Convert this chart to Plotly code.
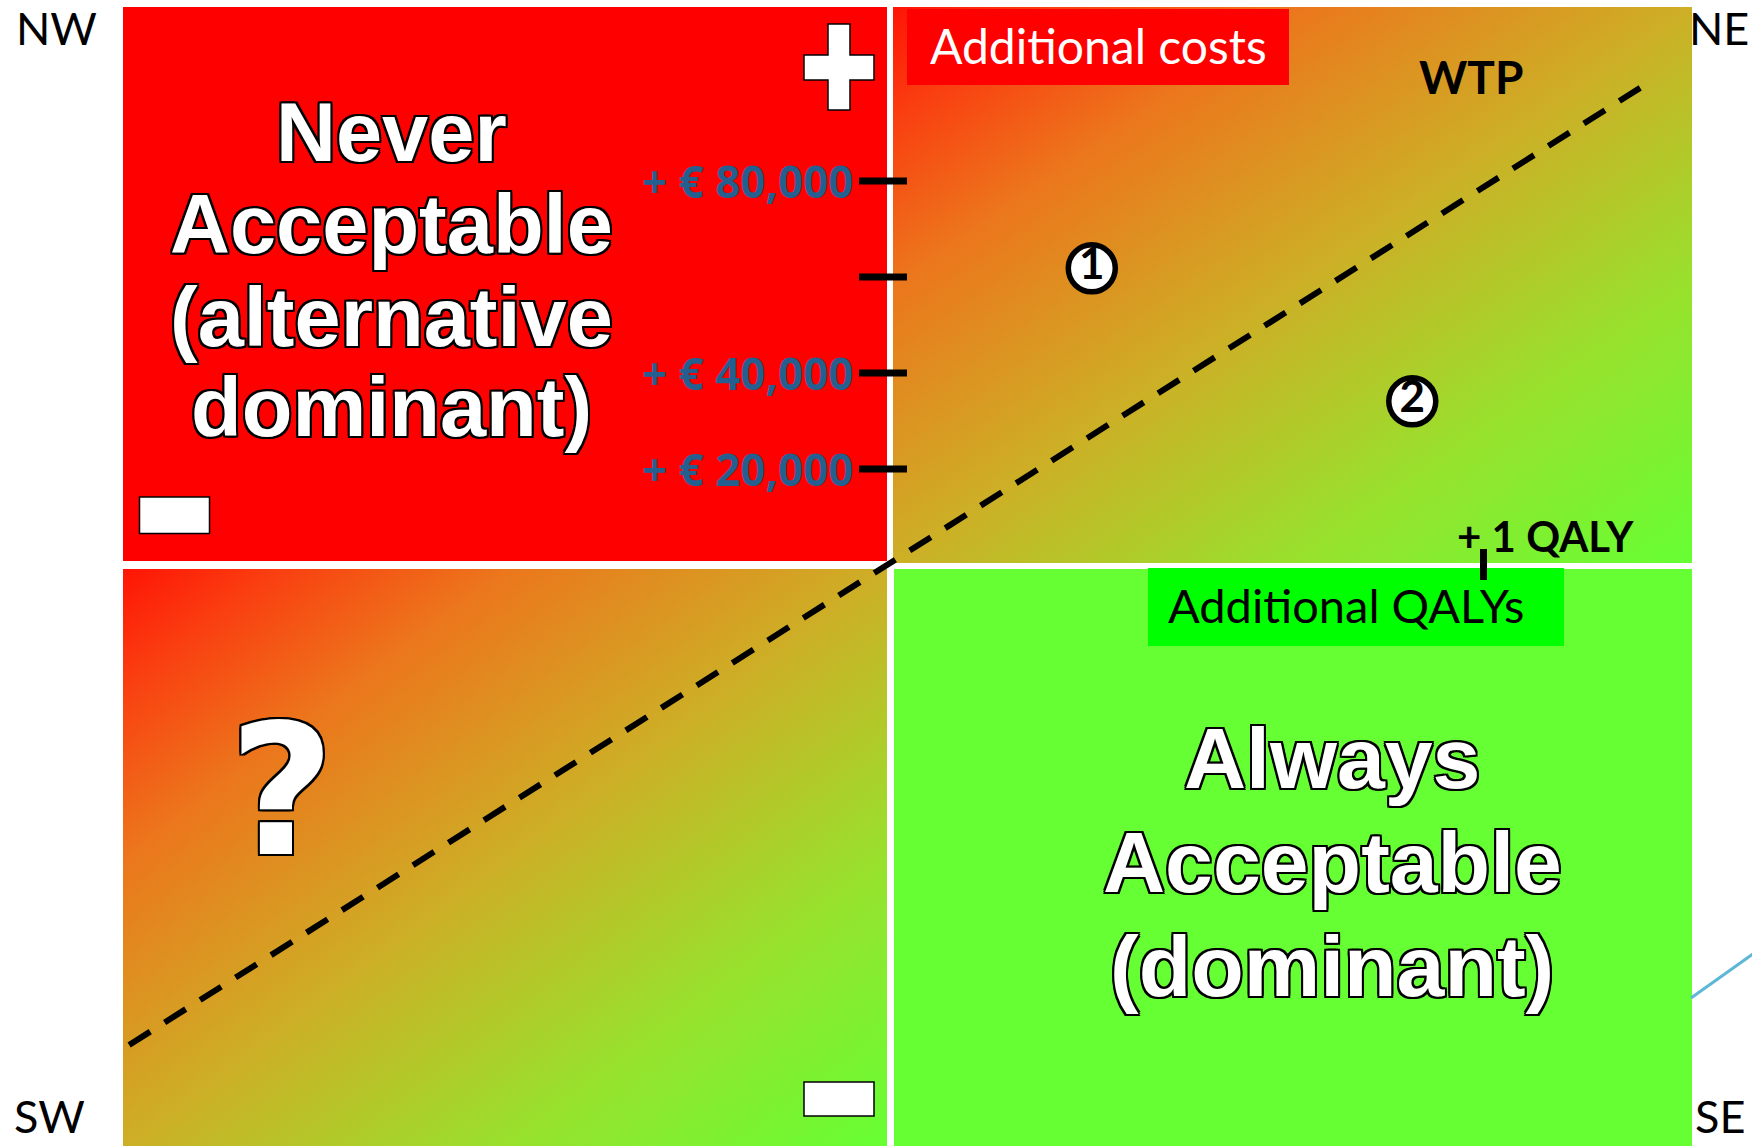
import base64
import plotly.graph_objects as go

W, H = 1752, 1146

# ---- cost-effectiveness plane content -------------------------------------
cost_ticks = [20000, 40000, 60000, 80000]
cost_tick_labels = ["+ € 20,000", "+ € 40,000", "", "+ € 80,000"]
qaly_ticks = [1]
qaly_tick_labels = ["+ 1 QALY"]

# willingness-to-pay threshold line (QALYs, €)
wtp_qaly = [-1.282, 1.264]
wtp_cost = [-100000, 99400]

# two example interventions
point_ids = ["1", "2"]
point_qaly = [0.34, 0.88]
point_cost = [61800, 34100]

nw_lines = ["Never", "Acceptable", "(alternative", "dominant)"]
se_lines = ["Always", "Acceptable", "(dominant)"]

# ---- page geometry -----------------------------------------------------------
X0_PX, Y0_PX = 890, 565          # where the origin sits on the page
PX_PER_QALY = 593.5
PX_PER_EURO = 96 / 20000

x_range = [-X0_PX / PX_PER_QALY, (W - X0_PX) / PX_PER_QALY]
y_range = [(Y0_PX - H) / PX_PER_EURO, Y0_PX / PX_PER_EURO]


def fx(px):
    return px / W


def fy(py):
    return 1 - py / H


RED = "#FF0000"
GREEN = "#66FF33"
BOX_GREEN = "#00FF00"
TICK_BLUE = "#255F8F"
OUTLINE = ", ".join(
    f"{dx}px {dy}px 0 #000"
    for dx, dy in [(-2, -2), (2, -2), (-2, 2), (2, 2), (0, 2), (2, 0), (0, -2), (-2, 0)]
)
CORNER_FONT = "Liberation Sans Narrow, Lato"

# diagonal red -> green gradient used for the NE and SW quadrants
stops = [(0, "#FF1405"), (10, "#FA3E10"), (25, "#EC761C"), (50, "#CDAF26"),
         (75, "#98E12D"), (100, "#66FF33")]
svg = (
    '<svg xmlns="http://www.w3.org/2000/svg" width="200" height="200" '
    'viewBox="0 0 200 200" preserveAspectRatio="none">'
    '<defs><linearGradient id="g" x1="0" y1="0" x2="1" y2="1">'
    + "".join(f'<stop offset="{o}%" stop-color="{c}"/>' for o, c in stops)
    + '</linearGradient></defs><rect width="200" height="200" fill="url(#g)"/></svg>'
)
grad_uri = "data:image/svg+xml;base64," + base64.b64encode(svg.encode()).decode()


def grad_image(x0, y0, x1, y1):
    return dict(source=grad_uri, xref="paper", yref="paper", x=fx(x0), y=fy(y0),
                sizex=(x1 - x0) / W, sizey=(y1 - y0) / H, xanchor="left",
                yanchor="top", sizing="stretch", layer="below")


def rect(x0, y0, x1, y1, fill, layer="below", line_w=0, line_c="rgba(0,0,0,0)"):
    return dict(type="rect", xref="paper", yref="paper", x0=fx(x0), x1=fx(x1),
                y0=fy(y1), y1=fy(y0), fillcolor=fill, layer=layer,
                line=dict(width=line_w, color=line_c))


fig = go.Figure()

# WTP threshold
fig.add_trace(go.Scatter(
    x=wtp_qaly, y=wtp_cost, mode="lines",
    line=dict(color="black", width=6, dash="25px,17px"),
    hoverinfo="skip",
))

# numbered interventions
fig.add_trace(go.Scatter(
    x=point_qaly, y=point_cost, mode="markers+text", text=point_ids,
    textposition="middle center",
    textfont=dict(family="Lato", size=44, color="black", weight="bold"),
    marker=dict(symbol="circle", size=47, color="white",
                line=dict(color="black", width=5.5)),
    hoverinfo="skip",
))

shapes = [
    rect(123, 7, 887, 561, RED),
    rect(894, 569, 1692, H + 2, GREEN),
    # axis title boxes
    rect(907, 9, 1289, 85, RED, layer="above"),
    rect(1148, 568, 1564, 646, BOX_GREEN, layer="above"),
]

# "+" sign (NE end of the cost axis)
pts = [(828, 24), (850, 24), (850, 55), (874, 55), (874, 80), (850, 80),
       (850, 110), (828, 110), (828, 80), (804, 80), (804, 55), (828, 55)]
path = "M" + " L".join(f"{fx(x):.5f},{fy(y):.5f}" for x, y in pts) + " Z"
shapes.append(dict(type="path", xref="paper", yref="paper", path=path,
                   fillcolor="white", line=dict(color="black", width=1.5),
                   layer="above"))
# "-" signs
shapes.append(rect(139.5, 497, 209.5, 533.5, "white", layer="above",
                   line_w=1.5, line_c="black"))
shapes.append(rect(804, 1082, 874, 1116, "white", layer="above",
                   line_w=1.5, line_c="black"))

# cost-axis tick marks
for v in cost_ticks:
    shapes.append(dict(type="line", xref="paper", yref="y", x0=fx(859), x1=fx(907),
                       y0=v, y1=v, line=dict(color="black", width=7), layer="above"))
# QALY-axis tick mark
for q in qaly_ticks:
    shapes.append(dict(type="line", xref="x", yref="paper", x0=q, x1=q,
                       y0=fy(580), y1=fy(549), line=dict(color="black", width=7),
                       layer="above"))

# thin accent line at the right edge
shapes.append(dict(type="line", xref="paper", yref="paper", x0=fx(1691), y0=fy(998),
                   x1=fx(1753), y1=fy(954), line=dict(color="#5DB7D6", width=3),
                   layer="above"))

annotations = []


def label(text, x, y, size, color="black", family="Lato", weight="normal",
          xanchor="center", shadow=None, xref="paper", yref="paper", xshift=0):
    font = dict(family=family, size=size, color=color, weight=weight)
    if shadow:
        font["shadow"] = shadow
    annotations.append(dict(text=text, x=x, y=y, xref=xref, yref=yref,
                            xanchor=xanchor, yanchor="middle", showarrow=False,
                            font=font, xshift=xshift, borderpad=0, borderwidth=0))


# compass labels
label("NW", fx(16), fy(28), 45, family=CORNER_FONT, xanchor="left")
label("NE", fx(1749), fy(28), 45, family=CORNER_FONT, xanchor="right")
label("SW", fx(14), fy(1116), 45, family=CORNER_FONT, xanchor="left")
label("SE", fx(1695), fy(1116), 45, family=CORNER_FONT, xanchor="left")

# axis titles
label("Additional costs", fx(1098), fy(45.5), 48, color="white")
label("Additional QALYs", fx(1168), fy(605), 47, xanchor="left")
label("WTP", fx(1471), fy(76), 46, weight="bold")

# tick labels
for v, t in zip(cost_ticks, cost_tick_labels):
    if t:
        label(t, fx(854), v, 44, color=TICK_BLUE, family="Open Sans", weight=700,
              xanchor="right", yref="y")
for q, t in zip(qaly_ticks, qaly_tick_labels):
    label(t, q, fy(535.5), 42, weight="bold", xanchor="left", xref="x", xshift=-27)

# quadrant captions
for t, yc in zip(nw_lines, [132.9, 224.6, 317.2, 407.7]):
    label(t, fx(391), fy(yc), 83, color="white", family="Liberation Sans",
          weight="bold", shadow=OUTLINE)
for t, yc in zip(se_lines, [757.6, 862, 965.6]):
    label(t, fx(1332), fy(yc), 86, color="white", family="Liberation Sans",
          weight="bold", shadow=OUTLINE)
label("?", fx(282), fy(791), 182, color="white", family="DejaVu Sans",
      weight="bold", shadow=OUTLINE)

fig.update_layout(
    width=W, height=H, autosize=False,
    margin=dict(l=0, r=0, t=0, b=0, pad=0),
    paper_bgcolor="white", plot_bgcolor="white",
    showlegend=False, hovermode=False,
    xaxis=dict(range=x_range, visible=False, fixedrange=True),
    yaxis=dict(range=y_range, visible=False, fixedrange=True),
    images=[grad_image(893, 7, 1692, 563), grad_image(123, 569, 887, H + 2)],
    shapes=shapes,
    annotations=annotations,
)

fig.write_html("out.html", config={"displayModeBar": False, "staticPlot": True})
